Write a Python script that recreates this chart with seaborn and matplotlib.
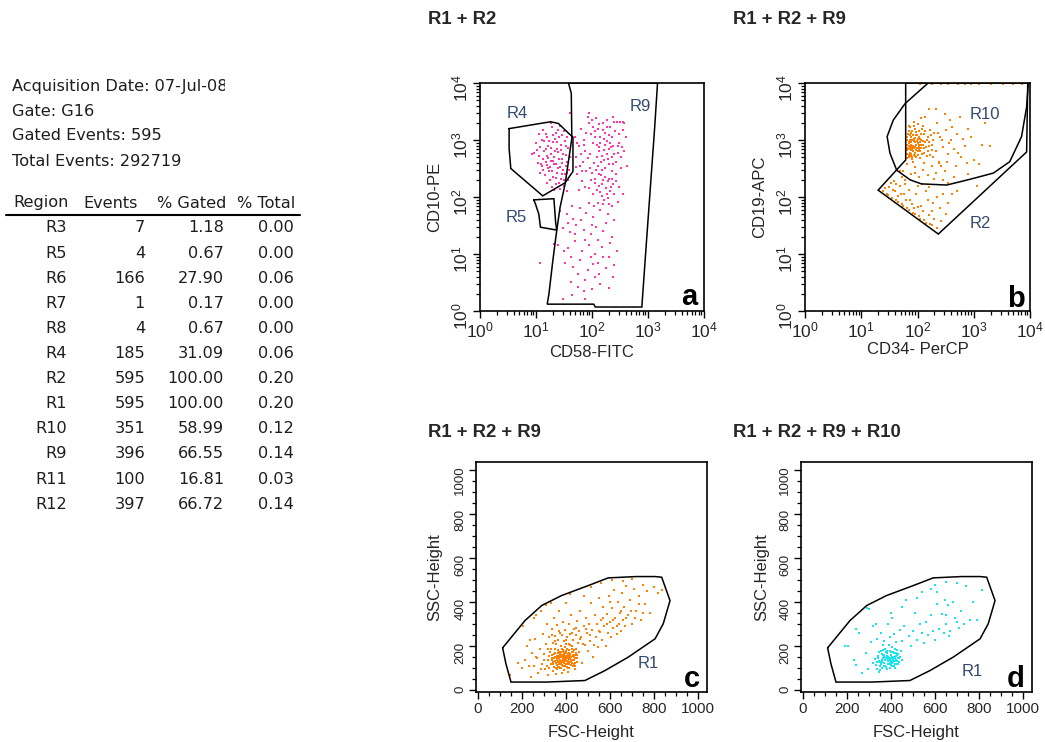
import numpy as np
import pandas as pd
import matplotlib
matplotlib.use("Agg")
import matplotlib.pyplot as plt
import seaborn as sns
from matplotlib import font_manager
from matplotlib.lines import Line2D
from matplotlib.ticker import MultipleLocator, LogLocator, NullFormatter
from matplotlib.transforms import Bbox, TransformedBbox

# ---------------- acquisition summary ----------------
acq_lines = ["Acquisition Date: 07-Jul-08", "Gate: G16",
             "Gated Events: 595", "Total Events: 292719"]
table_header = ["Region", "Events", "% Gated", "% Total"]
regions = ["R3", "R5", "R6", "R7", "R8", "R4", "R2", "R1", "R10", "R9", "R11", "R12"]
events = [7, 4, 166, 1, 4, 185, 595, 595, 351, 396, 100, 397]
pct_gated = [1.18, 0.67, 27.90, 0.17, 0.67, 31.09, 100.00, 100.00, 58.99, 66.55, 16.81, 66.72]
pct_total = [0.00, 0.00, 0.06, 0.00, 0.00, 0.06, 0.20, 0.20, 0.12, 0.14, 0.03, 0.14]

panel_titles = ["R1 + R2", "R1 + R2 + R9", "R1 + R2 + R9", "R1 + R2 + R9 + R10"]

# ---------------- panel a: CD58-FITC vs CD10-PE (log10 decades) ----------------
a_left_cluster = [
    (1.05, 3.10), (1.12, 3.18), (1.20, 3.05), (1.28, 3.22), (1.35, 3.12), (1.42, 3.25), (1.50, 3.15), (1.56, 3.05),
    (1.00, 2.95), (1.08, 2.88), (1.15, 2.98), (1.22, 2.90), (1.30, 2.96), (1.38, 2.85), (1.45, 2.92), (1.52, 2.98),
    (1.58, 2.86), (0.97, 2.78), (1.06, 2.72), (1.14, 2.80), (1.21, 2.68), (1.27, 2.76), (1.33, 2.70), (1.40, 2.79),
    (1.47, 2.66), (1.54, 2.74), (1.60, 2.70), (1.03, 2.60), (1.11, 2.55), (1.18, 2.62), (1.25, 2.52), (1.32, 2.58),
    (1.39, 2.50), (1.46, 2.60), (1.53, 2.55), (1.59, 2.48), (1.08, 2.42), (1.16, 2.38), (1.24, 2.45), (1.31, 2.35),
    (1.37, 2.42), (1.44, 2.32), (1.51, 2.40), (1.57, 2.30), (1.20, 2.25), (1.29, 2.18), (1.36, 2.22), (1.43, 2.14),
    (1.50, 2.20), (1.56, 2.10), (0.93, 2.76), (1.26, 3.30), (1.34, 3.02), (1.41, 3.06), (1.18, 2.84), (1.27, 2.64),
    (1.44, 2.82), (1.36, 2.58), (1.22, 2.50), (1.48, 2.48),
    (1.10, 3.00), (1.17, 3.10), (1.24, 2.98), (1.31, 3.08), (1.38, 2.96), (1.46, 3.08), (1.53, 2.90), (1.12, 2.66),
    (1.19, 2.72), (1.26, 2.86), (1.34, 2.80), (1.41, 2.66), (1.49, 2.76), (1.56, 2.62), (1.13, 2.48), (1.20, 2.56),
    (1.29, 2.46), (1.35, 2.34), (1.42, 2.52), (1.50, 2.30), (1.25, 2.30), (1.33, 2.12), (1.41, 2.24), (1.46, 2.40),
    (1.55, 2.42), (1.02, 2.82), (1.09, 2.58), (1.58, 2.62), (1.39, 3.18), (1.30, 2.64),
]
a_right_cluster = [
    (1.70, 3.05), (1.76, 2.90), (1.72, 2.70), (1.78, 2.55), (1.74, 2.40), (1.80, 3.20), (1.85, 3.00), (1.88, 2.80),
    (1.84, 2.62), (1.90, 2.45), (1.95, 3.30), (1.98, 3.10), (2.02, 2.95), (1.97, 2.75), (2.04, 2.60), (2.00, 2.42),
    (2.06, 2.25), (1.94, 2.15), (2.01, 2.05), (2.08, 3.38), (2.10, 3.20), (2.14, 3.05), (2.12, 2.88), (2.17, 2.72),
    (2.11, 2.55), (2.16, 2.38), (2.13, 2.20), (2.18, 2.02), (2.10, 1.90), (2.20, 3.30), (2.23, 3.12), (2.26, 2.98),
    (2.22, 2.82), (2.28, 2.66), (2.24, 2.50), (2.30, 2.32), (2.25, 2.15), (2.29, 1.98), (2.33, 3.22), (2.36, 3.05),
    (2.34, 2.88), (2.40, 2.75), (2.37, 2.58), (2.42, 2.40), (2.38, 2.22), (2.44, 3.32), (2.48, 3.10), (2.46, 2.90),
    (2.52, 2.70), (2.05, 3.15), (2.19, 3.18), (2.27, 3.22), (2.15, 2.95), (2.21, 2.65), (2.09, 2.70), (2.31, 2.85),
    (2.07, 2.48), (2.19, 2.30), (2.35, 2.45), (2.40, 3.32), (2.45, 3.32), (2.50, 3.32), (2.55, 3.32), (2.57, 3.30),
    (2.60, 3.05), (2.58, 2.80), (2.62, 2.55), (1.92, 3.40), (1.82, 2.28), (1.76, 2.12), (2.48, 2.18), (2.55, 2.05),
    (2.03, 1.85), (2.20, 1.88), (2.32, 2.10), (1.61, 3.48), (1.94, 3.48),
    (2.02, 3.22), (2.06, 3.05), (2.09, 2.92), (2.13, 2.80), (2.16, 2.62), (2.18, 2.48), (2.21, 3.02), (2.24, 2.92),
    (2.27, 2.76), (2.30, 2.58), (2.32, 2.95), (2.35, 2.70), (2.38, 2.90), (2.41, 3.15), (2.43, 2.62), (2.46, 2.78),
    (2.49, 2.95), (2.51, 2.50), (2.54, 2.88), (2.56, 3.18), (2.05, 2.32), (2.09, 2.12), (2.12, 2.40), (2.15, 2.08),
    (2.18, 2.22), (2.21, 1.95), (2.23, 2.35), (2.26, 2.05), (2.28, 2.28), (2.31, 1.88), (2.34, 2.18), (2.36, 2.32),
    (2.40, 2.05), (2.43, 2.28), (2.46, 1.92), (1.86, 2.92), (1.90, 3.12), (1.93, 2.68), (1.96, 2.50), (1.99, 2.30),
    (1.80, 2.75), (1.83, 2.45), (1.87, 2.18), (1.73, 2.95), (1.71, 2.52), (2.00, 3.35), (2.26, 3.35), (2.12, 3.28),
    (2.38, 3.40), (2.30, 3.08),
]
a_low_tail = [
    (1.42, 1.75), (1.55, 1.70), (1.66, 1.62), (1.78, 1.80), (1.90, 1.72), (2.02, 1.65), (2.15, 1.78), (2.28, 1.70),
    (2.40, 1.60), (1.48, 1.45), (1.60, 1.38), (1.72, 1.50), (1.85, 1.42), (1.98, 1.35), (2.08, 1.48), (2.20, 1.40),
    (2.35, 1.30), (1.40, 1.15), (1.58, 1.10), (1.70, 1.22), (1.82, 1.05), (1.95, 1.15), (2.05, 1.00), (2.18, 1.12),
    (2.30, 0.95), (2.45, 1.05), (1.52, 0.85), (1.66, 0.78), (1.78, 0.90), (1.92, 0.72), (2.02, 0.82), (2.12, 0.65),
    (2.25, 0.75), (2.38, 0.60), (1.62, 0.50), (1.75, 0.42), (1.88, 0.55), (2.00, 0.38), (2.15, 0.48), (2.30, 0.40),
    (1.48, 0.21), (1.88, 0.21), (1.64, 0.28), (1.08, 0.85), (1.32, 1.17),
    (1.58, 1.55), (1.70, 1.35), (1.80, 1.60), (1.88, 1.25), (2.00, 1.50), (2.10, 1.25), (2.25, 1.55), (2.32, 1.20),
    (1.62, 0.95), (1.75, 0.65), (1.98, 0.95), (2.10, 0.85), (2.20, 0.95), (1.85, 0.35), (2.05, 0.60), (2.40, 0.80),
    (1.50, 1.05), (1.95, 1.90), (2.35, 1.85), (1.65, 1.85),
]
gate_r4 = [(0.52, 3.20), (1.26, 3.32), (1.40, 3.29), (1.58, 3.12), (1.66, 3.05), (1.66, 2.45),
           (1.52, 2.25), (1.12, 2.02), (0.55, 2.50), (0.52, 2.85), (0.52, 3.20)]
gate_r5 = [(0.96, 1.95), (1.32, 1.97), (1.35, 1.56), (1.37, 1.42), (1.08, 1.47), (1.05, 1.70),
           (0.99, 1.88), (0.96, 1.95)]
gate_r9 = [(1.58, 4.00), (1.63, 3.82), (1.64, 3.03), (1.52, 2.23), (1.43, 1.82), (1.37, 1.41),
           (1.30, 0.88), (1.23, 0.29), (1.20, 0.12), (2.03, 0.12), (2.06, 0.07), (2.89, 0.07),
           (2.97, 1.18), (3.12, 3.23), (3.17, 4.00), (1.58, 4.00)]
a_labels = [("R4", 0.66, 3.47), ("R5", 0.64, 1.64), ("R9", 2.86, 3.58)]

# ---------------- panel b: CD34-PerCP vs CD19-APC (log10 decades) ----------------
b_top_row = [(2.05, 3.99), (2.25, 3.99), (2.42, 3.99), (2.55, 3.99), (2.72, 3.99), (2.85, 3.99),
             (2.95, 3.99), (3.10, 3.99), (3.30, 3.99), (3.52, 3.99), (3.70, 3.99), (3.85, 3.99)]
b_dense_cluster = [
    (1.82, 3.05), (1.85, 2.95), (1.83, 2.85), (1.86, 2.78), (1.84, 2.70), (1.88, 3.12), (1.90, 3.00), (1.92, 2.90),
    (1.89, 2.82), (1.93, 2.74), (1.95, 3.20), (1.97, 3.08), (1.99, 2.98), (1.96, 2.88), (2.00, 2.80), (1.98, 2.70),
    (2.02, 3.15), (2.04, 3.02), (2.06, 2.92), (2.03, 2.84), (2.08, 2.76), (2.10, 3.25), (2.12, 3.10), (2.14, 2.96),
    (2.11, 2.86), (2.16, 2.72), (2.18, 3.05), (2.20, 2.90), (2.22, 3.18), (2.25, 2.82), (1.87, 3.22), (1.94, 3.32),
    (2.01, 3.28), (2.07, 3.38), (1.81, 2.92), (1.81, 2.76), (1.84, 3.15), (1.91, 2.66), (2.05, 2.68), (2.13, 3.40),
    (1.86, 2.88), (1.89, 3.05), (1.95, 2.96), (1.97, 2.82), (2.00, 3.02), (2.03, 2.92), (1.92, 3.08), (1.88, 2.72),
    (2.06, 3.10), (2.09, 2.98), (2.28, 3.00), (2.30, 3.12), (2.27, 2.70),
    (1.81, 3.00), (1.82, 2.82), (1.83, 3.10), (1.84, 2.90), (1.85, 2.74), (1.86, 3.00), (1.87, 2.84), (1.88, 2.96),
    (1.89, 2.76), (1.90, 2.88), (1.91, 3.16), (1.92, 2.80), (1.93, 2.98), (1.94, 2.86), (1.95, 2.72), (1.96, 3.04),
    (1.97, 2.92), (1.98, 3.14), (1.99, 2.86), (2.00, 2.94), (2.01, 2.74), (2.02, 3.06), (2.04, 2.80), (2.05, 2.96),
    (2.07, 2.86), (2.08, 3.20), (2.10, 2.92), (2.12, 2.78), (2.14, 3.16), (2.15, 2.88), (2.17, 3.00), (2.19, 2.80),
    (2.21, 2.96), (2.23, 2.74), (2.24, 3.08), (2.26, 2.92), (1.82, 2.68), (1.85, 3.25), (1.90, 2.70), (1.93, 3.24),
    (1.81, 2.86), (1.84, 2.96), (1.87, 3.08), (1.89, 2.92), (1.91, 2.84), (1.94, 3.02), (1.96, 2.78), (1.99, 3.08),
    (2.02, 2.88), (2.06, 3.00),
]
b_right_spread = [
    (2.35, 3.30), (2.40, 3.05), (2.45, 2.88), (2.50, 3.18), (2.55, 2.75), (2.60, 3.00), (2.38, 2.62), (2.65, 2.85),
    (2.70, 3.10), (2.48, 3.45), (2.33, 3.55), (2.58, 3.35), (2.78, 2.70), (2.85, 2.90), (2.90, 3.20), (3.00, 2.65),
    (3.15, 2.92), (3.28, 2.90), (2.42, 2.55), (2.68, 2.55), (2.20, 3.55), (2.75, 3.40), (3.10, 2.58), (2.95, 3.05),
    (2.32, 2.80), (2.44, 3.00), (2.52, 2.62), (2.62, 3.22), (2.80, 3.02), (2.36, 3.12), (2.56, 2.95), (2.72, 2.78),
    (2.88, 2.60), (3.20, 3.30),
]
b_lower_band = [
    (1.68, 2.45), (1.75, 2.45), (1.82, 2.58), (1.88, 2.40), (1.95, 2.52), (2.02, 2.35), (2.10, 2.48), (2.18, 2.38),
    (2.25, 2.55), (2.32, 2.42), (2.45, 2.30), (2.55, 2.25), (1.78, 2.30), (2.08, 2.22), (2.20, 2.18), (1.92, 2.62),
    (2.38, 2.60), (2.65, 2.35), (2.90, 2.40), (3.05, 2.20),
    (1.38, 2.10), (1.45, 2.05), (1.50, 2.18), (1.55, 1.98), (1.60, 2.10), (1.65, 1.92), (1.70, 2.05), (1.75, 1.85),
    (1.80, 1.95), (1.85, 1.78), (1.90, 1.88), (1.95, 1.70), (2.00, 1.82), (2.05, 1.62), (2.10, 1.75), (2.15, 1.55),
    (2.20, 1.68), (2.25, 1.50), (2.30, 1.62), (2.35, 1.45), (1.52, 2.25), (1.62, 1.95), (1.72, 1.88), (1.82, 1.80),
    (1.92, 1.72), (2.02, 1.66), (2.12, 1.60), (1.58, 2.28), (1.68, 2.20), (1.85, 2.12), (1.98, 2.05), (2.18, 1.95),
    (2.28, 1.90), (2.40, 1.80), (2.50, 1.70), (2.45, 2.05), (2.62, 2.05), (2.22, 1.52), (1.48, 2.04), (1.78, 2.22),
    (1.95, 2.42), (2.12, 2.60), (2.30, 2.32), (2.48, 2.45), (1.72, 2.35), (1.62, 2.22), (1.56, 2.12), (1.66, 2.02),
    (1.42, 2.15), (1.86, 1.95), (2.06, 1.85), (2.26, 1.75), (2.15, 2.10), (2.00, 2.20), (2.35, 2.00), (2.55, 1.90),
    (2.70, 2.10), (1.76, 2.05), (2.42, 1.58), (1.93, 1.80),
]
gate_r2 = [(1.79, 4.00), (1.79, 2.65), (1.30, 2.12), (2.37, 1.35), (3.94, 2.79), (3.96, 4.00), (1.79, 4.00)]
gate_r10 = [(2.19, 4.00), (1.78, 3.64), (1.57, 3.35), (1.46, 3.06), (1.51, 2.77), (1.63, 2.47), (1.87, 2.30),
            (2.07, 2.23), (2.52, 2.21), (2.93, 2.31), (3.35, 2.42), (3.64, 2.62), (3.85, 3.06), (3.94, 3.58),
            (3.97, 4.00)]
b_labels = [("R10", 3.20, 3.44), ("R2", 3.11, 1.54)]

# ---------------- panels c, d: FSC-Height vs SSC-Height (channels) ----------------
c_core = [
    (330, 120), (338, 145), (345, 105), (350, 170), (352, 132), (358, 95), (362, 155), (365, 185), (368, 118),
    (372, 140), (375, 165), (378, 100), (380, 128), (383, 150), (386, 178), (388, 112), (390, 138), (393, 160),
    (396, 195), (398, 122), (400, 148), (402, 170), (405, 105), (408, 135), (410, 158), (412, 185), (415, 118),
    (418, 142), (420, 165), (423, 128), (425, 150), (428, 200), (430, 110), (433, 175), (436, 138), (440, 160),
    (443, 125), (446, 190), (448, 148), (335, 160), (342, 88), (348, 190), (355, 125), (360, 140), (363, 108),
    (370, 175), (374, 128), (377, 200), (382, 115), (385, 138), (389, 92), (392, 150), (395, 172), (399, 132),
    (403, 155), (406, 120), (409, 145), (413, 168), (416, 130), (419, 205), (422, 150), (426, 172), (431, 140),
    (435, 118), (438, 182), (441, 145), (318, 138), (325, 100), (328, 175), (340, 130), (357, 158), (367, 145),
    (371, 102), (381, 190), (391, 125), (401, 180), (411, 100), (421, 115), (434, 155), (445, 170), (355, 210),
    (398, 210), (452, 130), (460, 175), (312, 110), (322, 155), (346, 148), (376, 150), (394, 142), (407, 165),
    (335, 140), (343, 122), (351, 150), (359, 115), (366, 135), (373, 158), (379, 118), (384, 160), (389, 128),
    (394, 110), (397, 155), (402, 138), (407, 152), (411, 125), (414, 142), (417, 160), (424, 138), (429, 125),
    (432, 160), (437, 150), (344, 165), (354, 100), (362, 170), (369, 105), (387, 185), (404, 190), (414, 102),
    (427, 188), (439, 112), (449, 160), (365, 128), (383, 132), (396, 135), (405, 145), (386, 145), (375, 135),
    (392, 168), (418, 152), (358, 148), (379, 175),
]
c_spread = [
    (145, 70), (180, 125), (200, 100), (215, 140), (225, 200), (240, 60), (245, 170), (255, 110), (260, 235),
    (270, 145), (275, 80), (280, 190), (290, 120), (295, 255), (300, 165), (305, 95), (310, 210), (315, 300),
    (320, 70), (325, 240), (330, 190), (335, 280), (340, 215), (345, 330), (350, 245), (355, 75), (360, 295),
    (365, 230), (370, 360), (375, 260), (380, 80), (385, 310), (390, 225), (395, 275), (400, 395), (405, 240),
    (410, 85), (415, 300), (420, 255), (425, 340), (430, 230), (435, 280), (440, 95), (445, 250), (450, 315),
    (455, 215), (460, 270), (465, 360), (470, 240), (475, 125), (480, 290), (485, 205), (490, 330), (495, 260),
    (500, 180), (505, 300), (510, 225), (515, 395), (520, 275), (525, 150), (530, 340), (535, 240), (540, 300),
    (545, 195), (550, 420), (555, 265), (560, 320), (565, 230), (570, 380), (575, 290), (580, 200), (585, 345),
    (590, 260), (595, 430), (600, 310), (605, 240), (610, 375), (615, 285), (620, 455), (625, 330), (630, 255),
    (635, 400), (640, 300), (645, 350), (650, 270), (655, 440), (660, 320), (665, 380), (670, 290), (675, 475),
    (680, 340), (690, 410), (700, 300), (710, 460), (720, 360), (730, 430), (740, 320), (750, 480), (760, 390),
    (770, 450), (780, 350), (800, 470), (820, 440), (205, 290), (235, 230), (265, 340), (285, 360), (310, 385),
    (420, 435), (480, 430), (560, 485), (610, 500), (660, 495), (700, 505), (515, 470), (255, 330), (330, 395),
    (835, 455),
    (230, 110), (262, 150), (286, 95), (302, 140), (318, 190), (338, 250), (352, 225), (367, 270), (383, 250),
    (398, 230), (412, 210), (428, 260), (447, 285), (462, 235), (478, 210), (492, 280), (508, 250), (528, 205),
    (548, 270), (568, 330), (588, 300), (612, 320), (632, 290), (652, 360), (672, 330), (694, 360), (714, 330),
    (732, 390), (752, 350), (600, 400),
]
d_core = [
    (335, 130), (342, 155), (348, 110), (353, 178), (357, 140), (361, 100), (364, 160), (369, 125), (373, 190),
    (376, 145), (379, 108), (382, 168), (385, 132), (388, 152), (391, 118), (394, 180), (397, 140), (400, 160),
    (403, 125), (406, 195), (409, 145), (412, 112), (415, 170), (418, 135), (421, 155), (424, 120), (427, 185),
    (430, 145), (434, 165), (438, 130), (344, 175), (350, 92), (356, 120), (362, 185), (367, 150), (372, 112),
    (377, 172), (383, 95), (387, 138), (392, 205), (396, 125), (401, 145), (405, 110), (410, 175), (414, 150),
    (419, 100), (423, 140), (428, 160), (432, 118), (440, 150), (326, 142), (330, 115), (338, 98), (360, 130),
    (370, 160), (381, 148), (399, 172), (408, 130), (417, 190), (426, 132), (445, 180), (450, 140), (318, 125),
    (395, 100), (365, 205),
    (340, 145), (352, 128), (359, 165), (366, 112), (374, 138), (380, 158), (386, 120), (390, 145), (398, 132),
    (404, 150), (411, 138), (416, 118), (422, 168), (429, 135), (436, 148), (346, 135), (363, 145), (384, 180),
    (402, 115), (420, 145),
]
d_spread = [
    (190, 200), (205, 200), (230, 140), (240, 115), (255, 260), (270, 80), (285, 170), (295, 95), (300, 370),
    (310, 220), (320, 290), (335, 235), (345, 85), (355, 260), (370, 225), (385, 300), (395, 240), (405, 330),
    (415, 255), (425, 220), (440, 275), (450, 225), (460, 290), (470, 410), (480, 245), (490, 200), (500, 270),
    (510, 350), (520, 230), (530, 300), (540, 260), (550, 215), (560, 310), (570, 250), (580, 340), (590, 270),
    (600, 230), (610, 390), (620, 280), (630, 345), (640, 260), (645, 410), (650, 300), (660, 385), (665, 245),
    (670, 270), (680, 400), (690, 330), (700, 310), (710, 285), (720, 360), (730, 300), (740, 475), (760, 320),
    (700, 485), (650, 490), (600, 480), (580, 460), (540, 445), (520, 420), (450, 380), (400, 350), (330, 300),
    (290, 375), (240, 280), (610, 445), (775, 400), (790, 320), (815, 455), (650, 340),
]
gate_r1 = [(112, 193), (127, 121), (150, 38), (312, 38), (486, 45), (577, 90), (683, 151), (805, 234),
           (842, 302), (873, 407), (835, 513), (805, 516), (721, 516), (592, 510), (501, 475), (380, 430),
           (290, 385), (214, 317), (112, 193)]

# ---------------- styling ----------------
W, H = 1045, 742
PINK, ORANGE, CYAN = "#ff35a8", "#ff8000", "#16e4ef"
LABEL_COLOR = "#34496e"
DOT_SIZE = 3

sns.set_style("ticks")
plt.rcParams["font.family"] = ["Liberation Sans", "DejaVu Sans"]
plt.rcParams["mathtext.default"] = "regular"

installed = {f.name for f in font_manager.fontManager.ttflist}
if "Liberation Sans Narrow" in installed:
    title_family, title_size = ["Liberation Sans Narrow", "DejaVu Sans"], 15.5
else:
    title_family, title_size = ["Liberation Sans", "DejaVu Sans"], 13.3

TABLE_FONT = dict(family=["DejaVu Sans"], fontsize=11.6, color="#1e1e1e")


def fx(px):
    return px / W


def fy(py):
    return 1 - py / H


def add_axes(left, top, right, bottom):
    return fig.add_axes([fx(left), fy(bottom), (right - left) / W, (bottom - top) / H])


def points_frame(*groups, log=False):
    pts = [p for g in groups for p in g]
    df = pd.DataFrame(pts, columns=["x", "y"])
    if log:
        df = 10 ** df
    return df


def style_axes(ax, xlab, ylab, xlab_off, ylab_off, w, h, log):
    for s in ax.spines.values():
        s.set_linewidth(1.2)
        s.set_color("black")
    ax.tick_params(which="major", direction="out", length=5, width=1.0, color="black", pad=2)
    ax.tick_params(which="minor", direction="out", length=2.6, width=0.9, color="black")
    ax.tick_params(axis="y", labelrotation=90)
    if log:
        ax.set_xscale("log")
        ax.set_yscale("log")
        ax.set_xlim(1, 1e4)
        ax.set_ylim(1, 1e4)
        for axis in (ax.xaxis, ax.yaxis):
            axis.set_major_locator(LogLocator(base=10, numticks=10))
            axis.set_minor_locator(LogLocator(base=10, subs=np.arange(2, 10), numticks=10))
            axis.set_minor_formatter(NullFormatter())
        ax.tick_params(axis="both", labelsize=12.5)
    else:
        ax.set_xlim(-9, 1041)
        ax.set_ylim(-7, 1035)
        for axis in (ax.xaxis, ax.yaxis):
            axis.set_major_locator(MultipleLocator(200))
            axis.set_minor_locator(MultipleLocator(50))
        ax.tick_params(axis="x", labelsize=11)
        ax.tick_params(axis="y", labelsize=9.5)
    ax.set_xlabel(xlab, fontsize=12, va="center")
    ax.set_ylabel(ylab, fontsize=12, va="center")
    ax.xaxis.set_label_coords(0.5, -xlab_off / h)
    ax.yaxis.set_label_coords(-ylab_off / w, 0.5)
    ax.grid(False)


def panel_letter(ax, letter, dx, dy, w, h):
    ax.text(1 - dx / w, dy / h, letter, transform=ax.transAxes, ha="right", va="baseline",
            fontsize=21, fontweight="bold", color="black")


def draw_gate(ax, verts, log=False):
    xs = [v[0] for v in verts]
    ys = [v[1] for v in verts]
    if log:
        xs = [10 ** v for v in xs]
        ys = [10 ** v for v in ys]
    ax.plot(xs, ys, color="black", lw=1.1, solid_joinstyle="miter")


def dots(ax, df, color):
    sns.scatterplot(data=df, x="x", y="y", ax=ax, color=color, marker="s",
                    s=DOT_SIZE, linewidth=0, legend=False)


fig = plt.figure(figsize=(W / 100, H / 100), dpi=100)

# ---- summary text and table ----
clip = TransformedBbox(Bbox([[0, 0], [fx(225), 1]]), fig.transFigure)
for i, line in enumerate(acq_lines):
    t = fig.text(fx(12), fy(86 + i * 25), line, ha="left", va="center", **TABLE_FONT)
    if i == 0:
        t.set_clip_box(clip)
        t.set_clip_on(True)

for label, left in zip(table_header, [13, 83, 157, 237]):
    fig.text(fx(left), fy(203), label, ha="left", va="center", **TABLE_FONT)
fig.add_artist(Line2D([fx(6), fx(300)], [fy(215), fy(215)], transform=fig.transFigure,
                      color="black", lw=1.5))
for i in range(len(regions)):
    y = fy(228 + i * 25.1)
    fig.text(fx(67), y, regions[i], ha="right", va="center", **TABLE_FONT)
    fig.text(fx(145), y, str(events[i]), ha="right", va="center", **TABLE_FONT)
    fig.text(fx(224), y, f"{pct_gated[i]:.2f}", ha="right", va="center", **TABLE_FONT)
    fig.text(fx(294), y, f"{pct_total[i]:.2f}", ha="right", va="center", **TABLE_FONT)

# ---- titles ----
for (x, y), title in zip([(428, 20), (733, 20), (428, 432), (733, 432)], panel_titles):
    fig.text(fx(x), fy(y), title, ha="left", va="center", fontsize=title_size,
             fontweight="bold", family=title_family)

# ---- panel a ----
ax_a = add_axes(480, 83, 704, 311)
dots(ax_a, points_frame(a_left_cluster, a_right_cluster, a_low_tail, log=True), PINK)
for g in (gate_r4, gate_r5, gate_r9):
    draw_gate(ax_a, g, log=True)
for name, lx, ly in a_labels:
    ax_a.text(10 ** lx, 10 ** ly, name, fontsize=12, color=LABEL_COLOR, ha="center", va="center")
style_axes(ax_a, "CD58-FITC", "CD10-PE", 42, 45, 224, 228, log=True)
panel_letter(ax_a, "a", 7, 6, 224, 228)

# ---- panel b ----
ax_b = add_axes(805, 83, 1030, 311)
dots(ax_b, points_frame(b_top_row, b_dense_cluster, b_right_spread, b_lower_band, log=True), ORANGE)
for g in (gate_r2, gate_r10):
    draw_gate(ax_b, g, log=True)
for name, lx, ly in b_labels:
    ax_b.text(10 ** lx, 10 ** ly, name, fontsize=12, color=LABEL_COLOR, ha="center", va="center")
style_axes(ax_b, "CD34- PerCP", "CD19-APC", 39, 45, 225, 228, log=True)
panel_letter(ax_b, "b", 5, 4, 225, 228)

# ---- panel c ----
ax_c = add_axes(476, 462, 707, 692)
dots(ax_c, points_frame(c_core, c_spread), ORANGE)
draw_gate(ax_c, gate_r1)
ax_c.text(773, 120, "R1", fontsize=12, color=LABEL_COLOR, ha="center", va="center")
style_axes(ax_c, "FSC-Height", "SSC-Height", 40, 41, 231, 230, log=False)
panel_letter(ax_c, "c", 7, 5, 231, 230)

# ---- panel d ----
ax_d = add_axes(801, 462, 1032, 692)
dots(ax_d, points_frame(d_core, d_spread), CYAN)
draw_gate(ax_d, gate_r1)
ax_d.text(768, 85, "R1", fontsize=12, color=LABEL_COLOR, ha="center", va="center")
style_axes(ax_d, "FSC-Height", "SSC-Height", 40, 39, 231, 230, log=False)
panel_letter(ax_d, "d", 7, 5, 231, 230)

fig.savefig("out.png", dpi=100)
